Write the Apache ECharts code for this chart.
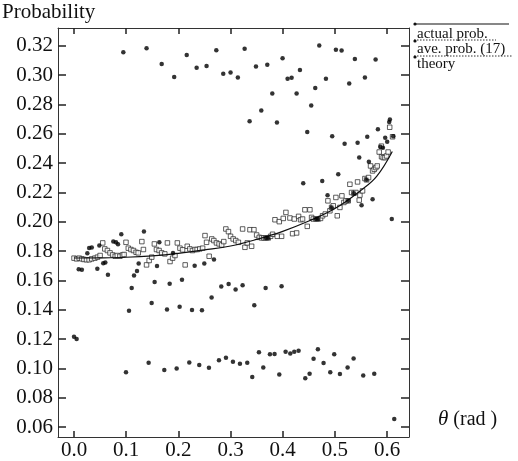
<!DOCTYPE html>
<html><head><meta charset="utf-8">
<script src="https://cdn.jsdelivr.net/npm/echarts@6/dist/echarts.min.js"></script>
<style>html,body{margin:0;padding:0;background:#fff}#c{width:518px;height:461px}</style>
</head><body><div id="c"></div>
<script>
// ---- data ----
const xTicks = [0.0, 0.1, 0.2, 0.3, 0.4, 0.5, 0.6];
const yTicks = [0.06, 0.08, 0.10, 0.12, 0.14, 0.16, 0.18, 0.20, 0.22, 0.24, 0.26, 0.28, 0.30, 0.32];
const legendLabels = ['actual prob.', 'ave. prob. (17)', 'theory'];

const theoryTheta = [0, 0.05, 0.1, 0.15, 0.2, 0.25, 0.3, 0.35, 0.4, 0.45, 0.5, 0.55, 0.58, 0.61];
const theoryProb  = [0.1753, 0.1754, 0.1758, 0.1768, 0.1785, 0.1808, 0.1835, 0.1880, 0.1935, 0.2005, 0.2090, 0.2215, 0.2310, 0.2480];

const avePoints = [
 [0,0.1752],[0.005,0.1747],[0.010,0.1752],[0.015,0.1747],[0.019,0.1743],[0.024,0.1741],[0.029,0.1741],[0.034,0.1747],
 [0.040,0.1752],[0.045,0.1759],[0.050,0.1770],[0.055,0.1856],[0.059,0.1815],[0.064,0.1804],[0.069,0.1788],[0.074,0.1774],
 [0.079,0.1765],[0.083,0.1770],[0.088,0.1765],[0.093,0.1774],[0.096,0.1777],[0.0996,0.1860],[0.104,0.1820],[0.109,0.1811],
 [0.114,0.1804],[0.119,0.1792],[0.123,0.1788],[0.130,0.1865],[0.133,0.1811],[0.139,0.1706],[0.144,0.1736],[0.149,0.1759],
 [0.154,0.1849],[0.158,0.1811],[0.163,0.1804],[0.168,0.1788],[0.174,0.1781],[0.179,0.1856],[0.184,0.1729],[0.189,0.1752],
 [0.1935,0.1770],[0.198,0.1856],[0.203,0.1820],[0.208,0.1809],[0.213,0.1706],[0.217,0.1833],[0.222,0.1815],[0.227,0.1804],
 [0.232,0.1811],[0.236,0.1811],[0.241,0.1815],[0.2465,0.1820],[0.251,0.1906],[0.254,0.1860],[0.259,0.1765],[0.264,0.1883],
 [0.268,0.1872],[0.273,0.1856],[0.278,0.1849],[0.283,0.1842],[0.287,0.1865],[0.291,0.1951],[0.296,0.1933],[0.300,0.1901],
 [0.305,0.1883],[0.310,0.1872],[0.315,0.1860],
 [0.3231,0.1951],[0.3276,0.1826],[0.332,0.1856],[0.3372,0.1946],[0.3404,0.1833],[0.3448,0.1946],[0.35,0.1910],[0.355,0.1894],
 [0.3595,0.1890],[0.364,0.1890],[0.3678,0.1890],[0.3723,0.1890],[0.3768,0.1901],[0.3806,0.1915],[0.3851,0.2014],[0.3895,0.1901],
 [0.3934,0.2001],[0.3978,0.1901],[0.401,0.2023],[0.4061,0.2064],[0.4138,0.2026],[0.4189,0.1919],[0.4221,0.2019],[0.4266,0.1924],
 [0.4304,0.2037],[0.4342,0.2014],[0.438,0.2019],[0.4425,0.2082],[0.447,0.1969],[0.4521,0.2082],[0.4553,0.2030],[0.4585,0.2019],
 [0.4636,0.2019],[0.468,0.2019],[0.4725,0.2023],[0.4764,0.2041],[0.4815,0.2053],[0.4866,0.2143],[0.4904,0.2075],[0.4936,0.2098],
 [0.4968,0.2109],[0.5019,0.2166],[0.5045,0.2041],[0.5096,0.2098],[0.5134,0.2177],[0.5172,0.2132],[0.5211,0.2143],[0.5255,0.2143],
 [0.5287,0.2256],[0.5319,0.2200],[0.5364,0.2195],[0.5402,0.2200],[0.5434,0.2272],[0.5466,0.2148],[0.5479,0.2182],[0.553,0.2211],
 [0.5575,0.2295],[0.5607,0.2286],[0.5645,0.2302],[0.5683,0.2381],[0.5722,0.2347],[0.5754,0.2358],[0.5785,0.2370],[0.5811,0.2381],
 [0.5849,0.2476],[0.5894,0.2444],[0.5926,0.2438],[0.5958,0.2438],[0.599,0.2449],[0.589,0.2516],[0.602,0.2476],[0.605,0.2645],[0.6105,0.2580]
];

const actualPoints = [
 [0.0945,0.3157],[0.139,0.3184],[0.168,0.3076],[0.192,0.2988],[0.216,0.3137],[0.235,0.3051],[0.254,0.3062],[0.2727,0.3171],
 [0.286,0.3010],[0.300,0.3019],[0.314,0.2985],[0.327,0.3180],[0.3365,0.2686],[0.3487,0.3060],[0.3704,0.3071],[0.3997,0.3116],
 [0.4093,0.2976],[0.417,0.2982],[0.433,0.3035],[0.470,0.3202],[0.5019,0.3173],[0.5128,0.3168],[0.5383,0.3110],[0.578,0.3107],
 [0.4828,0.2976],[0.5575,0.2985],[0.380,0.2876],[0.4266,0.2876],[0.4623,0.2912],[0.5274,0.2944],[0.3589,0.2759],[0.3889,0.2677],
 [0.4546,0.2793],[0.447,0.2612],[0.4948,0.2584],[0.5186,0.2533],[0.5435,0.2540],[0.562,0.2580],[0.5824,0.2632],[0.5964,0.2573],
 [0.6002,0.2546],[0.6054,0.2698],[0.604,0.2680],[0.6117,0.2584],[0.5466,0.2438],[0.5651,0.2409],[0.5064,0.2324],[0.4393,0.2263],
 [0.4757,0.2279],[0.4859,0.2181],[0.5722,0.2154],[0.5511,0.2113],[0.587,0.2512],[0.592,0.2505],[0.609,0.2019],[0.6137,0.0654],
 [0.009,0.1677],[0.015,0.1673],[0.0255,0.1786],[0.029,0.1822],[0.034,0.1824],[0.0447,0.1679],[0.0485,0.1838],[0.056,0.1718],
 [0.060,0.1722],[0.065,0.1639],[0.0753,0.1865],[0.0805,0.1861],[0.0843,0.1846],[0.0906,0.1915],[0.1054,0.1394],[0.1105,0.1548],
 [0.115,0.1634],[0.1207,0.1664],[0.1239,0.1715],[0.134,0.1934],[0.1488,0.1446],[0.1545,0.1589],[0.159,0.1698],[0.1635,0.1861],
 [0.1782,0.1401],[0.1833,0.1577],[0.1897,0.1788],[0.2024,0.1421],[0.2069,0.1605],[0.2261,0.1399],[0.2312,0.1700],[0.2452,0.1396],
 [0.2497,0.1715],[0.2637,0.1483],[0.2682,0.1742],[0.2822,0.1559],[0.2963,0.1575],[0.3097,0.1539],[0.3231,0.1567],[0.3672,0.1549],
 [0.3978,0.1560],[0.3455,0.1430],
 [0.0,0.1216],[0.005,0.1200],
 [0.0996,0.0973],[0.143,0.1038],[0.173,0.0989],[0.1967,0.1000],[0.2209,0.1041],[0.24,0.1023],[0.2586,0.1005],[0.2778,0.1055],
 [0.2912,0.1073],[0.3046,0.1046],[0.318,0.1032],[0.332,0.1038],[0.3416,0.0941],[0.3544,0.1110],[0.3627,0.1006],[0.3755,0.1096],
 [0.3844,0.1098],[0.3934,0.0958],[0.4055,0.1113],[0.4145,0.1102],[0.4221,0.1113],[0.4304,0.1120],[0.4432,0.0933],[0.4515,0.0963],
 [0.4591,0.1065],[0.4674,0.1130],[0.4783,0.1037],[0.4911,0.0974],[0.4987,0.1096],[0.5096,0.0961],[0.5243,0.1006],[0.5358,0.1067],
 [0.5543,0.0952],[0.5754,0.0963],
 [0.3678,0.1890],[0.3723,0.1890],[0.4636,0.2019],[0.468,0.2019],[0.4936,0.2098],[0.5255,0.2143],[0.5364,0.2195],[0.5607,0.2286]
];

// ---- chart ----
const FONT = '"Liberation Serif","DejaVu Serif",serif';
const INK = '#111';
const X_MIN = -0.0307, X_MAX = 0.642, Y_MIN = 0.0532, Y_MAX = 0.3322;
const theoryData = theoryTheta.map((t, i) => [t, theoryProb[i]]);
const axLine = { show: true, onZero: false, lineStyle: { color: '#333', width: 1 } };
const xTick = { show: true, inside: true, length: 6, customValues: xTicks, lineStyle: { color: '#222', width: 1.5 } };
const yTick = { show: true, inside: true, length: 8, customValues: yTicks, lineStyle: { color: '#222', width: 1.5 } };

const chart = echarts.init(document.getElementById('c'), null, { renderer: 'canvas' });
chart.setOption({
  animation: false,
  backgroundColor: '#fff',
  grid: { left: 58, top: 28, right: 109, bottom: 22, containLabel: false },
  xAxis: [
    { type: 'value', position: 'bottom', min: X_MIN, max: X_MAX, axisLine: axLine, axisTick: xTick,
      axisLabel: { show: true, customValues: xTicks, margin: 3, formatter: v => v.toFixed(1),
        fontFamily: FONT, fontSize: 21, color: INK },
      splitLine: { show: false } },
    { type: 'value', position: 'top', min: X_MIN, max: X_MAX, axisLine: axLine, axisTick: xTick,
      axisLabel: { show: false }, splitLine: { show: false } }
  ],
  yAxis: [
    { type: 'value', position: 'left', min: Y_MIN, max: Y_MAX, axisLine: axLine, axisTick: yTick,
      axisLabel: { show: true, customValues: yTicks, margin: 5, formatter: v => v.toFixed(2),
        fontFamily: FONT, fontSize: 21, color: INK },
      splitLine: { show: false } },
    { type: 'value', position: 'right', min: Y_MIN, max: Y_MAX, axisLine: axLine, axisTick: yTick,
      axisLabel: { show: false }, splitLine: { show: false } }
  ],
  series: [
    { name: legendLabels[1], type: 'scatter', data: avePoints, symbol: 'rect', symbolSize: 4.5,
      itemStyle: { color: '#fff', borderColor: '#222', borderWidth: 0.9 }, z: 2 },
    { name: legendLabels[2], type: 'line', data: theoryData, smooth: 0.4, showSymbol: false,
      lineStyle: { color: '#111', width: 1.2 }, z: 3 },
    { name: legendLabels[0], type: 'scatter', data: actualPoints, symbol: 'circle', symbolSize: 4.5,
      itemStyle: { color: '#000' }, z: 4 }
  ],
  graphic: [
    { type: 'text', left: 2, top: 2, style: { text: 'Probability', fontFamily: FONT, fontSize: 21, fill: INK } },
    { type: 'text', left: 438, top: 409, style: { text: '{i|θ} (rad )', fontFamily: FONT, fontSize: 20, fill: INK,
        rich: { i: { fontStyle: 'italic', fontFamily: FONT, fontSize: 21, fill: INK } } } },
    // legend
    { type: 'line', shape: { x1: 414, y1: 24, x2: 509, y2: 24 }, style: { stroke: '#111', lineWidth: 1.2 } },
    { type: 'circle', shape: { cx: 415, cy: 24, r: 1.6 }, style: { fill: '#111' } },
    { type: 'text', left: 417, top: 27, style: { text: legendLabels[0], fontFamily: FONT, fontSize: 15, fill: INK } },
    { type: 'line', shape: { x1: 414, y1: 40, x2: 496, y2: 40 }, style: { stroke: '#333', lineWidth: 1, lineDash: [1.5, 1.5] } },
    { type: 'circle', shape: { cx: 415, cy: 41, r: 1.6 }, style: { fill: '#111' } },
    { type: 'text', left: 417, top: 42, style: { text: legendLabels[1], fontFamily: FONT, fontSize: 15, fill: INK } },
    { type: 'line', shape: { x1: 414, y1: 56, x2: 512, y2: 56 }, style: { stroke: '#333', lineWidth: 1, lineDash: [1.5, 1.5] } },
    { type: 'circle', shape: { cx: 415, cy: 57, r: 1.6 }, style: { fill: '#111' } },
    { type: 'text', left: 417, top: 57, style: { text: legendLabels[2], fontFamily: FONT, fontSize: 15, fill: INK } }
  ]
});
</script>
</body></html>
